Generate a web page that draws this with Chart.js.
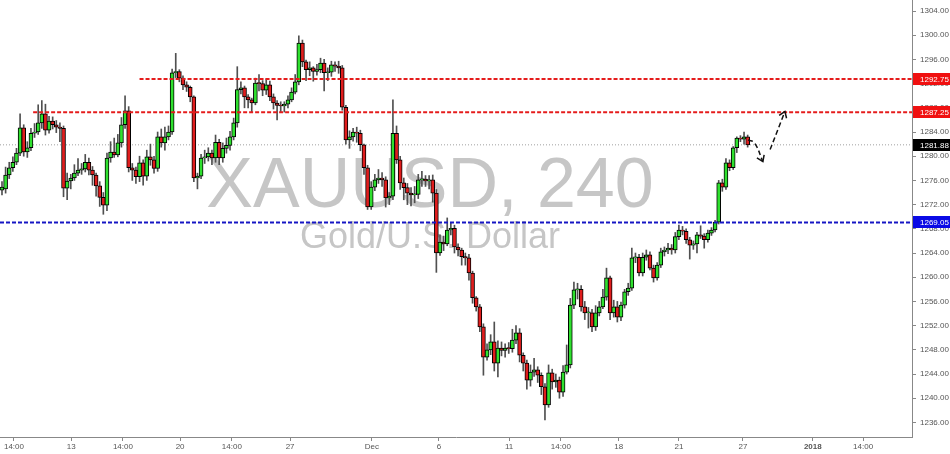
<!DOCTYPE html>
<html><head><meta charset="utf-8">
<script src="https://cdn.jsdelivr.net/npm/chart.js@4/dist/chart.umd.min.js"></script>
<style>html,body{margin:0;padding:0;background:#fff;overflow:hidden}canvas{display:block}</style>
</head><body>
<canvas id="c" width="950" height="454"></canvas>
<script>
// ---- XAUUSD H4 candles ----
const openP = [1274.4,1274.6,1276.9,1278.1,1279.0,1280.5,1284.7,1280.7,1281.4,1283.8,
1284.0,1285.5,1287.0,1284.3,1285.8,1285.2,1284.8,1284.6,1274.7,1275.9,
1276.4,1277.2,1277.7,1277.9,1279.0,1277.7,1276.9,1275.1,1273.2,1271.9,
1279.7,1280.7,1280.2,1282.2,1285.2,1287.5,1278.1,1277.7,1276.6,1278.9,
1276.7,1279.9,1279.4,1278.0,1283.2,1282.2,1283.2,1284.0,1293.8,1294.0,
1292.9,1291.8,1291.4,1289.8,1276.4,1276.7,1279.7,1279.9,1280.5,1279.7,
1282.3,1279.7,1281.3,1281.8,1283.2,1285.5,1291.0,1291.3,1289.8,1289.3,
1288.8,1292.1,1292.0,1290.9,1291.8,1289.8,1288.8,1288.4,1288.3,1288.6,
1289.3,1290.6,1292.3,1298.7,1295.6,1294.3,1294.6,1294.0,1294.3,1295.4,
1293.8,1293.9,1295.1,1294.9,1294.6,1288.1,1282.7,1283.2,1284.0,1283.8,
1281.9,1278.1,1271.6,1274.9,1276.1,1276.4,1276.1,1273.1,1273.4,1283.8,
1279.4,1275.6,1274.8,1273.9,1273.6,1273.7,1276.1,1276.2,1275.9,1276.1,
1273.9,1264.0,1265.8,1265.5,1267.8,1268.1,1265.0,1264.5,1263.4,1263.2,
1260.7,1256.6,1255.1,1251.8,1246.8,1248.0,1249.3,1245.8,1248.3,1247.9,
1248.3,1248.2,1249.6,1250.8,1247.1,1245.8,1243.0,1244.3,1244.7,1243.8,
1241.9,1238.9,1244.2,1242.7,1243.0,1241.0,1244.3,1245.5,1255.4,1257.9,
1258.0,1255.1,1254.1,1254.1,1251.8,1254.1,1255.1,1256.7,1259.9,1254.1,
1255.1,1253.4,1255.4,1257.6,1258.2,1263.2,1263.3,1260.7,1263.3,1263.7,
1261.5,1259.9,1262.0,1264.2,1264.5,1264.8,1264.5,1266.7,1267.8,1267.6,
1266.2,1265.3,1265.5,1267.0,1266.8,1266.2,1267.3,1267.8,1269.1,1275.6,
1274.9,1278.9,1278.1,1281.4,1283.0,1282.8,1283.2];
const highP = [1275.8,1278.2,1279.0,1279.9,1281.3,1287.0,1285.2,1282.4,1284.6,1285.4,
1288.5,1289.2,1288.6,1286.6,1286.5,1285.9,1285.5,1285.0,1277.2,1277.0,
1278.6,1279.6,1278.8,1280.3,1279.7,1278.3,1277.2,1275.8,1274.0,1280.5,
1282.4,1283.0,1283.6,1286.4,1290.0,1288.2,1278.8,1278.2,1280.0,1279.4,
1281.0,1282.0,1280.0,1284.0,1284.5,1284.8,1285.0,1294.4,1297.0,1294.3,
1293.3,1292.3,1291.6,1290.0,1277.2,1280.3,1281.0,1281.4,1281.0,1283.5,
1282.8,1282.2,1283.0,1284.1,1286.3,1294.8,1292.3,1291.6,1290.2,1289.6,
1292.9,1293.5,1292.5,1292.8,1292.4,1290.3,1289.2,1289.0,1289.0,1290.0,
1291.3,1293.5,1299.9,1299.2,1295.9,1295.6,1294.8,1295.2,1296.2,1296.0,
1294.6,1295.7,1295.6,1295.7,1295.0,1288.4,1284.2,1284.6,1284.8,1284.3,
1282.0,1278.5,1275.8,1277.0,1277.8,1277.3,1276.6,1274.0,1289.3,1285.0,
1280.0,1276.4,1275.5,1274.8,1275.0,1277.0,1277.5,1276.8,1276.8,1276.9,
1274.5,1267.0,1266.8,1269.8,1268.9,1268.6,1265.5,1264.8,1264.0,1263.8,
1261.0,1256.8,1255.5,1252.3,1249.0,1250.5,1252.6,1249.5,1249.3,1249.0,
1249.2,1251.4,1252.0,1251.5,1247.5,1246.3,1245.5,1246.6,1245.2,1244.2,
1242.4,1245.5,1244.8,1244.0,1243.5,1245.4,1248.8,1256.5,1259.2,1259.0,
1258.6,1256.0,1255.0,1254.7,1255.3,1256.0,1258.0,1261.5,1260.2,1256.2,
1256.0,1255.9,1258.0,1259.0,1264.8,1264.0,1263.8,1264.0,1264.5,1264.2,
1262.0,1262.4,1264.8,1265.0,1265.6,1265.4,1267.4,1268.6,1268.4,1268.0,
1266.6,1266.0,1267.4,1268.5,1267.2,1267.8,1268.2,1269.4,1276.0,1276.2,
1279.6,1279.4,1281.6,1283.2,1283.4,1284.0,1283.5];
const lowP = [1273.6,1273.9,1276.3,1277.5,1278.6,1280.1,1280.0,1279.8,1280.9,1283.1,
1283.6,1284.6,1283.5,1283.8,1284.5,1283.9,1282.4,1273.3,1272.8,1274.6,
1276.0,1276.8,1277.0,1277.4,1276.9,1275.2,1273.4,1271.7,1270.4,1271.0,
1279.0,1279.8,1279.9,1281.5,1284.6,1277.4,1276.0,1275.5,1275.8,1275.2,
1276.0,1278.5,1277.2,1277.5,1281.5,1281.0,1282.7,1283.6,1293.0,1292.3,
1291.0,1290.7,1289.0,1275.8,1274.6,1276.3,1278.8,1279.2,1278.6,1279.0,
1278.6,1279.0,1280.5,1281.0,1282.7,1284.8,1290.3,1288.0,1288.0,1287.2,
1288.5,1290.8,1290.0,1290.2,1289.2,1287.8,1286.0,1287.3,1287.3,1288.0,
1289.0,1290.3,1291.8,1294.8,1292.5,1293.3,1292.4,1293.4,1293.8,1290.8,
1292.5,1293.2,1294.0,1293.7,1287.6,1282.0,1281.3,1282.5,1282.3,1280.9,
1277.0,1271.2,1271.2,1274.3,1275.5,1275.0,1271.6,1272.0,1272.8,1278.8,
1274.5,1272.8,1272.0,1271.8,1272.3,1273.0,1275.0,1275.0,1274.6,1272.4,
1260.8,1263.6,1264.4,1265.2,1267.0,1264.0,1263.5,1262.0,1262.0,1259.5,
1255.7,1254.4,1251.0,1243.8,1246.3,1247.2,1244.5,1243.5,1247.0,1246.8,
1247.4,1247.6,1249.0,1246.0,1244.5,1241.5,1242.0,1243.6,1242.6,1240.6,
1236.4,1238.5,1241.5,1241.8,1240.0,1240.3,1244.0,1245.0,1254.8,1256.4,
1254.4,1253.0,1251.6,1251.0,1251.2,1253.6,1254.8,1256.2,1253.0,1253.4,
1252.6,1252.8,1254.9,1257.0,1257.8,1262.4,1260.2,1260.2,1262.8,1261.2,
1259.2,1259.5,1261.6,1263.5,1263.9,1263.8,1264.0,1266.2,1267.0,1265.6,
1263.0,1264.6,1264.0,1266.4,1264.8,1265.8,1266.9,1267.5,1268.8,1274.2,
1274.5,1277.6,1277.8,1280.6,1282.4,1282.0,1281.5];
const closeP = [1274.9,1276.9,1278.1,1279.0,1280.5,1284.7,1280.7,1281.4,1283.8,1284.0,
1285.5,1287.0,1284.3,1285.8,1285.2,1284.8,1284.6,1274.7,1275.9,1276.4,
1277.2,1277.7,1277.9,1279.0,1277.7,1276.9,1275.1,1273.2,1271.9,1279.7,
1280.7,1280.2,1282.2,1285.2,1287.5,1278.1,1277.7,1276.6,1278.9,1276.7,
1279.9,1279.4,1278.0,1283.2,1282.2,1283.2,1284.0,1293.8,1294.0,1292.9,
1291.8,1291.4,1289.8,1276.4,1276.7,1279.7,1279.9,1280.5,1279.7,1282.3,
1279.7,1281.3,1281.8,1283.2,1285.5,1291.0,1291.3,1289.8,1289.3,1288.8,
1292.1,1292.0,1290.9,1291.8,1289.8,1288.8,1288.4,1288.3,1288.6,1289.3,
1290.6,1292.3,1298.7,1295.6,1294.3,1294.6,1294.0,1294.3,1295.4,1293.8,
1293.9,1295.1,1294.9,1294.6,1288.1,1282.7,1283.2,1284.0,1283.8,1281.9,
1278.1,1271.6,1274.9,1276.1,1276.4,1276.1,1273.1,1273.4,1283.8,1279.4,
1275.6,1274.8,1273.9,1273.6,1273.7,1276.1,1276.2,1275.9,1276.1,1273.9,
1264.0,1265.8,1265.5,1267.8,1268.1,1265.0,1264.5,1263.4,1263.2,1260.7,
1256.6,1255.1,1251.8,1246.8,1248.0,1249.3,1245.8,1248.3,1247.9,1248.3,
1248.2,1249.6,1250.8,1247.1,1245.8,1243.0,1244.3,1244.7,1243.8,1241.9,
1238.9,1244.2,1242.7,1243.0,1241.0,1244.3,1245.5,1255.4,1257.9,1258.0,
1255.1,1254.1,1254.1,1251.8,1254.1,1255.1,1256.7,1259.9,1254.1,1255.1,
1253.4,1255.4,1257.6,1258.2,1263.2,1263.3,1260.7,1263.3,1263.7,1261.5,
1259.9,1262.0,1264.2,1264.5,1264.8,1264.5,1266.7,1267.8,1267.6,1266.2,
1265.3,1265.5,1267.0,1266.8,1266.2,1267.3,1267.8,1269.1,1275.6,1274.9,
1278.9,1278.1,1281.4,1283.0,1282.8,1283.2,1281.88];

// x-axis tick labels (placed at bar positions)
const xTickPos = [3.3, 19.1, 33.4, 49.2, 63.5, 79.6, 102.2, 120.7, 140.1, 154.4, 170.4, 187.0, 204.7, 224.0, 237.9];
const xTickLabels = ['14:00','13','14:00','20','14:00','27','Dec','6','11','14:00','18','21','27','2018','14:00'];
const yTicks = [1236,1240,1244,1248,1252,1256,1260,1264,1268,1272,1276,1280,1284,1288,1292,1296,1300,1304];

// horizontal levels
const levelValues = [1292.75, 1287.25, 1269.05];
const levelStart = [38, 8.6, -0.55];
const levelColors = ['#e51c1c', '#e51c1c', '#1616c4'];
const lastPrice = 1281.88;

// projected path (dashed arrows)
const pathDownX = [206.1, 207.9, 210.2];
const pathDownY = [1282.7, 1282.2, 1279.1];
const pathUpX = [212.2, 216.3];
const pathUpY = [1281.1, 1287.4];

const X_MIN = -0.55, X_MAX = 251.4;
const Y_MIN = 1233.59, Y_MAX = 1305.82;

const idx = closeP.map((_, i) => i);
const wickData = idx.map(i => ({x: i, y: [lowP[i], highP[i]]}));
const bodyData = idx.map(i => ({x: i, y: [openP[i], closeP[i]]}));
const bodyColors = idx.map(i => closeP[i] >= openP[i] ? '#2fe02f' : '#e01d1d');

const FONT = '"Liberation Sans", Arial, sans-serif';

const datasets = [];
levelValues.forEach((v, k) => {
  datasets.push({type: 'line', data: [{x: levelStart[k], y: v}, {x: X_MAX, y: v}],
    borderColor: levelColors[k], borderWidth: 2, borderDash: [4, 2], pointRadius: 0, order: 0});
});
datasets.push({type: 'line', data: [{x: X_MIN, y: lastPrice}, {x: X_MAX, y: lastPrice}],
  borderColor: '#a0a0a0', borderWidth: 1, borderDash: [1, 2], pointRadius: 0, order: 3});
datasets.push({type: 'line', data: pathDownX.map((x, k) => ({x, y: pathDownY[k]})),
  borderColor: '#111', borderWidth: 1.5, borderDash: [5, 3], pointRadius: 0, tension: 0.4, order: 0});
datasets.push({type: 'line', data: pathUpX.map((x, k) => ({x, y: pathUpY[k]})),
  borderColor: '#111', borderWidth: 1.5, borderDash: [5, 3], pointRadius: 0, order: 0});
datasets.push({type: 'bar', data: wickData, backgroundColor: '#505050', barThickness: 1,
  grouped: false, order: 2});
datasets.push({type: 'bar', data: bodyData, backgroundColor: bodyColors, borderColor: '#000',
  borderWidth: 1, borderSkipped: false, barThickness: 4, grouped: false, minBarLength: 1, order: 1});

const overlay = {
  id: 'overlay',
  beforeDatasetsDraw(chart) {
    const c = chart.ctx;
    c.save();
    c.fillStyle = '#c6c6c6';
    c.textAlign = 'center';
    c.textBaseline = 'alphabetic';
    c.font = '70px ' + FONT;
    c.fillText('XAUUSD, 240', 430, 207);
    c.font = '36px ' + FONT;
    c.fillText('Gold/U.S. Dollar', 430, 248);
    c.restore();
  },
  afterDatasetsDraw(chart) {
    const c = chart.ctx, xs = chart.scales.x, ys = chart.scales.y;
    const head = (xa, ya, xb, yb) => {
      const x1 = xs.getPixelForValue(xa), y1 = ys.getPixelForValue(ya);
      const x2 = xs.getPixelForValue(xb), y2 = ys.getPixelForValue(yb);
      const ang = Math.atan2(y2 - y1, x2 - x1), L = 7;
      c.beginPath();
      c.moveTo(x2 - L * Math.cos(ang - 0.6), y2 - L * Math.sin(ang - 0.6));
      c.lineTo(x2, y2);
      c.lineTo(x2 - L * Math.cos(ang + 0.6), y2 - L * Math.sin(ang + 0.6));
      c.stroke();
    };
    c.save();
    c.strokeStyle = '#111'; c.lineWidth = 1.5; c.setLineDash([]);
    const n = pathDownX.length;
    head(pathDownX[n - 2], pathDownY[n - 2], pathDownX[n - 1], pathDownY[n - 1]);
    head(pathUpX[0], pathUpY[0], pathUpX[1], pathUpY[1]);
    c.restore();
  },
  afterDraw(chart) {
    const c = chart.ctx, ys = chart.scales.y, a = chart.chartArea;
    const tags = levelValues.map((v, k) => [v, levelColors[k] === '#1616c4' ? '#0a0ae6' : '#f01010']);
    tags.push([lastPrice, '#000']);
    c.save();
    c.font = '8px ' + FONT;
    c.textBaseline = 'middle';
    c.textAlign = 'left';
    tags.forEach(([v, col]) => {
      const y = Math.round(ys.getPixelForValue(v));
      c.fillStyle = col;
      c.fillRect(a.right + 1, y - 6, 950 - a.right - 1, 12);
      c.fillStyle = '#fff';
      c.fillText(v.toFixed(2), a.right + 8, y + 0.5);
    });
    c.restore();
  }
};

const noPad = s => { s.paddingTop = 0; s.paddingBottom = 0; s.paddingLeft = 0; s.paddingRight = 0; };

new Chart(document.getElementById('c'), {
  type: 'bar',
  data: {datasets},
  options: {
    responsive: false, animation: false, devicePixelRatio: 1, events: [],
    layout: {padding: 0},
    plugins: {legend: {display: false}, tooltip: {enabled: false}},
    scales: {
      x: {
        type: 'linear', min: X_MIN, max: X_MAX, offset: false, position: 'bottom',
        grid: {drawOnChartArea: false, offset: false, tickLength: 4, color: '#888', tickColor: '#888'},
        border: {display: true, color: '#888'},
        afterBuildTicks: s => { s.ticks = xTickPos.map(v => ({value: v})); },
        afterFit: s => { s.height = 17; noPad(s); },
        ticks: {
          autoSkip: false, maxRotation: 0, padding: 1, color: '#555',
          font: ctx => ({family: FONT, size: 8, weight: (ctx.tick && ctx.index === 13) ? 'bold' : 'normal'}),
          callback: (v, i) => xTickLabels[i]
        }
      },
      y: {
        type: 'linear', position: 'right', min: Y_MIN, max: Y_MAX,
        grid: {drawOnChartArea: false, tickLength: 4, color: '#888', tickColor: '#888'},
        border: {display: true, color: '#888'},
        afterBuildTicks: s => { s.ticks = yTicks.map(v => ({value: v})); },
        afterFit: s => { s.width = 38; noPad(s); },
        ticks: {padding: 4, color: '#555', font: {family: FONT, size: 8},
          callback: v => Number(v).toFixed(2)}
      }
    }
  },
  plugins: [overlay]
});
</script>
</body></html>
